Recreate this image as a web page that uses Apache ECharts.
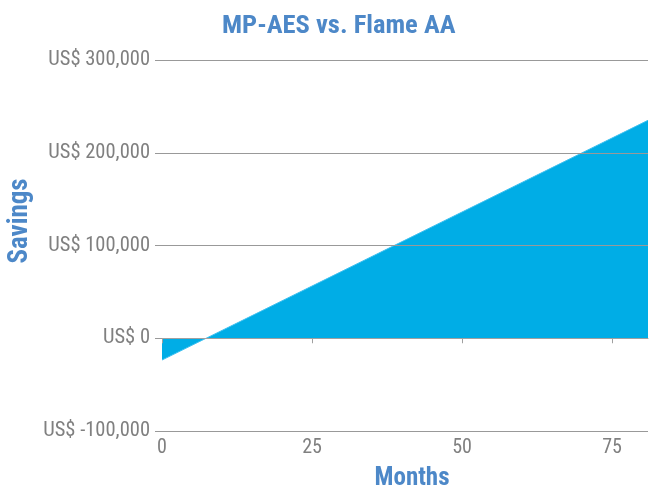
<!DOCTYPE html>
<html><head><meta charset="utf-8">
<script src="https://cdn.jsdelivr.net/npm/echarts@6/dist/echarts.min.js"></script>
<style>html,body{margin:0;padding:0;background:#fff}#c{width:650px;height:490px}</style>
</head><body><div id="c"></div>
<script>
const title = 'MP-AES vs. Flame AA';
const xName = 'Months';
const yName = 'Savings';
const months = [0, 81];
const savings = [-23500, 235000];
const xTicks = [0, 25, 50, 75];
const yTicks = [-100000, 0, 100000, 200000, 300000];

const FONT = '"Roboto Condensed","Liberation Sans Narrow","DejaVu Sans Condensed",Roboto,sans-serif';
const BLUE = '#4d88c8';
const GRAY = '#808080';
const fmt = v => 'US$ ' + v.toLocaleString('en-US');

const chart = echarts.init(document.getElementById('c'));
chart.setOption({
  animation: false,
  title: { text: title, left: 217, top: 8,
    textStyle: { fontFamily: FONT, fontSize: 26.5, fontWeight: 'bold', color: BLUE } },
  grid: { left: 162, right: 2, top: 60, bottom: 59, outerBoundsMode: 'none', containLabel: false },
  graphic: [
    { type: 'text', x: 20, y: 221, rotation: Math.PI / 2,
      style: { text: yName, font: 'bold 27px ' + FONT, fill: BLUE, align: 'center', verticalAlign: 'middle' } },
    { type: 'text', x: 412, y: 479,
      style: { text: xName, font: 'bold 25px ' + FONT, fill: BLUE, align: 'center', verticalAlign: 'middle' } }
  ],
  xAxis: {
    type: 'value', min: 0, max: 81, z: 5,
    axisLine: { show: true, lineStyle: { color: '#a0a0a0', width: 1 } },
    axisTick: { show: true, length: 5, lineStyle: { color: '#a0a0a0' }, customValues: xTicks },
    axisLabel: { fontFamily: FONT, fontSize: 20, color: GRAY, margin: 7, customValues: xTicks },
    splitLine: { show: false }
  },
  yAxis: {
    type: 'value', min: -100000, max: 300000, interval: 100000, z: 5,
    axisLine: { show: false },
    axisTick: { show: true, length: 7, lineStyle: { color: '#999' } },
    axisLabel: { fontFamily: FONT, fontSize: 20.5, color: GRAY, margin: 12, formatter: fmt },
    splitLine: { show: true, lineStyle: { color: '#999', width: 1 } }
  },
  series: [{
    type: 'line',
    data: months.map((m, i) => [m, savings[i]]),
    showSymbol: false,
    lineStyle: { color: '#40c0ef', width: 1 },
    areaStyle: { color: '#00ade6', opacity: 1 },
    z: 1
  }]
});
</script></body></html>
